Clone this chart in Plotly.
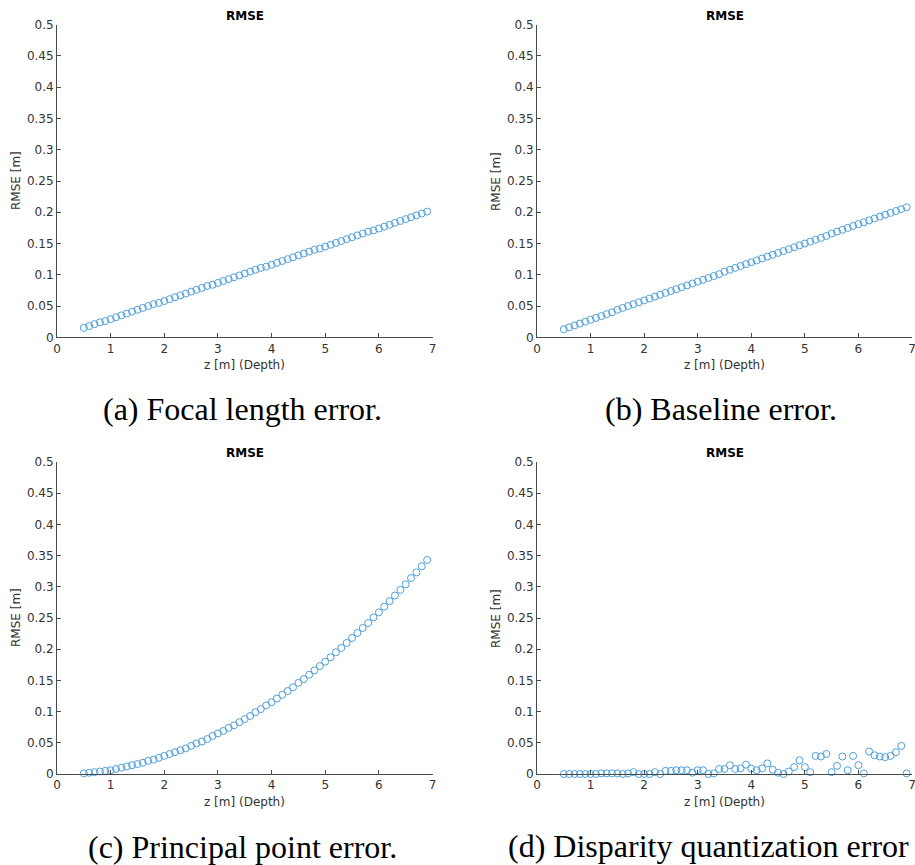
import plotly.graph_objects as go

z_depth = [0.5, 0.6, 0.7, 0.8, 0.9, 1.0, 1.1, 1.2, 1.3, 1.4, 1.5, 1.6, 1.7, 1.8, 1.9,
           2.0, 2.1, 2.2, 2.3, 2.4, 2.5, 2.6, 2.7, 2.8, 2.9, 3.0, 3.1, 3.2, 3.3, 3.4,
           3.5, 3.6, 3.7, 3.8, 3.9, 4.0, 4.1, 4.2, 4.3, 4.4, 4.5, 4.6, 4.7, 4.8, 4.9,
           5.0, 5.1, 5.2, 5.3, 5.4, 5.5, 5.6, 5.7, 5.8, 5.9, 6.0, 6.1, 6.2, 6.3, 6.4,
           6.5, 6.6, 6.7, 6.8, 6.9]

rmse_focal = [0.015, 0.018, 0.021, 0.024, 0.026, 0.029, 0.032, 0.035, 0.038, 0.041,
              0.044, 0.047, 0.050, 0.053, 0.055, 0.058, 0.061, 0.064, 0.067, 0.070,
              0.073, 0.076, 0.079, 0.082, 0.084, 0.087, 0.090, 0.093, 0.096, 0.099,
              0.102, 0.105, 0.108, 0.111, 0.113, 0.116, 0.119, 0.122, 0.125, 0.128,
              0.131, 0.134, 0.137, 0.140, 0.142, 0.145, 0.148, 0.151, 0.154, 0.157,
              0.160, 0.163, 0.166, 0.169, 0.171, 0.174, 0.177, 0.180, 0.183, 0.186,
              0.189, 0.192, 0.195, 0.198, 0.201]

rmse_baseline = [0.013, 0.016, 0.019, 0.022, 0.025, 0.028, 0.031, 0.034, 0.037, 0.040,
                 0.044, 0.047, 0.050, 0.053, 0.056, 0.059, 0.062, 0.065, 0.068, 0.071,
                 0.074, 0.077, 0.080, 0.083, 0.086, 0.089, 0.092, 0.095, 0.098, 0.101,
                 0.105, 0.108, 0.111, 0.114, 0.117, 0.120, 0.123, 0.126, 0.129, 0.132,
                 0.135, 0.138, 0.141, 0.144, 0.147, 0.150, 0.153, 0.156, 0.159, 0.162,
                 0.166, 0.169, 0.172, 0.175, 0.178, 0.181, 0.184, 0.187, 0.190, 0.193,
                 0.196, 0.199, 0.202, 0.205, 0.208]

rmse_principal = [0.001, 0.002, 0.003, 0.004, 0.005, 0.006, 0.008, 0.010, 0.012, 0.014,
                  0.016, 0.018, 0.021, 0.023, 0.026, 0.029, 0.032, 0.035, 0.038, 0.041,
                  0.045, 0.049, 0.052, 0.056, 0.061, 0.065, 0.069, 0.074, 0.078, 0.083,
                  0.088, 0.093, 0.099, 0.104, 0.110, 0.115, 0.121, 0.127, 0.133, 0.139,
                  0.146, 0.152, 0.159, 0.166, 0.173, 0.180, 0.187, 0.195, 0.202, 0.210,
                  0.218, 0.226, 0.234, 0.242, 0.251, 0.259, 0.268, 0.277, 0.286, 0.295,
                  0.304, 0.314, 0.323, 0.333, 0.343]

rmse_disparity = [0.000, 0.000, 0.000, 0.000, 0.000, 0.000, 0.000, 0.001, 0.001, 0.001,
                  0.001, 0.000, 0.001, 0.003, 0.000, 0.000, 0.000, 0.003, 0.000, 0.005,
                  0.005, 0.006, 0.006, 0.006, 0.002, 0.006, 0.006, 0.000, 0.001, 0.008,
                  0.008, 0.014, 0.008, 0.009, 0.015, 0.009, 0.006, 0.009, 0.017, 0.007,
                  0.002, 0.000, 0.004, 0.011, 0.022, 0.011, 0.003, 0.029, 0.028, 0.032,
                  0.003, 0.013, 0.028, 0.006, 0.029, 0.014, 0.001, 0.036, 0.030, 0.028,
                  0.027, 0.029, 0.035, 0.045, 0.001]

panel_titles = ["RMSE", "RMSE", "RMSE", "RMSE"]
captions = ["(a) Focal length error.", "(b) Baseline error.",
            "(c) Principal point error.", "(d) Disparity quantization error"]
x_label = "z [m] (Depth)"
y_label = "RMSE [m]"
x_ticks = [0, 1, 2, 3, 4, 5, 6, 7]
y_ticks = [0, 0.05, 0.1, 0.15, 0.2, 0.25, 0.3, 0.35, 0.4, 0.45, 0.5]
y_tick_text = ["0", "0.05", "0.1", "0.15", "0.2", "0.25", "0.3", "0.35", "0.4", "0.45", "0.5"]

W, H = 915, 865
MARKER_COLOR = "#4f9fdc"
AX_COLOR = "#4a4a4a"
TXT_COLOR = "#333333"
SANS = "DejaVu Sans"
SERIF = "Liberation Serif"

# pixel boxes: (left, right, top, bottom)
boxes = [(57, 432.5, 24.7, 337.3), (537, 912, 24.7, 337.3),
         (57, 432.5, 462, 774), (537, 912, 462, 774)]
series = [rmse_focal, rmse_baseline, rmse_principal, rmse_disparity]
caption_centers = [(242, 409), (721, 409), (242, 847), (708, 846)]

fig = go.Figure()
annotations = []
for i, (box, ys) in enumerate(zip(boxes, series)):
    l, r, t, b = box
    xa = "xaxis" if i == 0 else f"xaxis{i+1}"
    ya = "yaxis" if i == 0 else f"yaxis{i+1}"
    xref = "x" if i == 0 else f"x{i+1}"
    yref = "y" if i == 0 else f"y{i+1}"
    fig.add_trace(go.Scatter(
        x=z_depth, y=ys, mode="markers", xaxis=xref, yaxis=yref,
        marker=dict(symbol="circle-open", size=7, color=MARKER_COLOR,
                    line=dict(width=1, color=MARKER_COLOR)),
        showlegend=False, cliponaxis=False))
    axis_common = dict(showline=True, linecolor=AX_COLOR, linewidth=1,
                       ticks="inside", ticklen=4, tickcolor=AX_COLOR,
                       showgrid=False, zeroline=False, automargin=False,
                       ticklabeloverflow="allow",
                       tickfont=dict(family=SANS, size=12, color=TXT_COLOR))
    fig.update_layout({
        xa: dict(domain=[l / W, r / W], range=[0, 7], anchor=yref,
                 tickvals=x_ticks, **axis_common),
        ya: dict(domain=[1 - b / H, 1 - t / H], range=[0, 0.5], anchor=xref,
                 tickvals=y_ticks, ticktext=y_tick_text, **axis_common),
    })
    cx = (l + r) / 2
    annotations.append(dict(text="<b>" + panel_titles[i] + "</b>", x=cx / W, y=1 - (t - 9) / H,
                            xref="paper", yref="paper", showarrow=False,
                            font=dict(family=SANS, size=12, color="#000000"),
                            xanchor="center", yanchor="middle"))
    annotations.append(dict(text=x_label, x=cx / W, y=1 - (b + 28) / H,
                            xref="paper", yref="paper", showarrow=False,
                            font=dict(family=SANS, size=12, color=TXT_COLOR),
                            xanchor="center", yanchor="middle"))
    annotations.append(dict(text=y_label, x=(l - 41) / W, y=1 - (t + b) / 2 / H,
                            xref="paper", yref="paper", showarrow=False, textangle=-90,
                            font=dict(family=SANS, size=12, color=TXT_COLOR),
                            xanchor="center", yanchor="middle"))
    ccx, ccy = caption_centers[i]
    annotations.append(dict(text=captions[i], x=ccx / W, y=1 - ccy / H,
                            xref="paper", yref="paper", showarrow=False,
                            font=dict(family=SERIF, size=32, color="#000000"),
                            xanchor="center", yanchor="middle"))

fig.update_layout(width=W, height=H,
                  margin=dict(l=0, r=0, t=0, b=0, pad=0, autoexpand=False),
                  paper_bgcolor="white", plot_bgcolor="white",
                  annotations=annotations)

fig.write_html("out.html")
